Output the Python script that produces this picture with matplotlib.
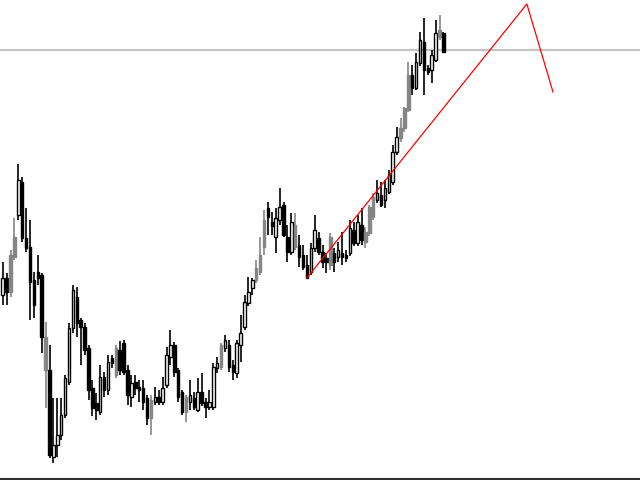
import numpy as np
import matplotlib
matplotlib.use("Agg")
import matplotlib.pyplot as plt

# price levels (screen rows, smaller = higher price)
opens = [295, 278, 292, 257, 215, 182, 238, 247, 280, 272, 275, 337, 370, 457, 445, 435, 415, 382, 328, 297,
         320, 327, 348, 388, 403, 412, 377, 390, 358, 375, 350, 343, 370, 397, 382, 387, 388, 398, 418, 402,
         397, 402, 385, 357, 345, 370, 392, 412, 402, 398, 410, 392, 402, 407, 407, 368, 367, 348, 345, 365,
         373, 345, 327, 303, 288, 280, 272, 247, 208, 222, 237, 220, 205, 237, 252, 225, 245, 255, 265, 272,
         248, 238, 252, 258, 265, 253, 257, 253, 255, 253, 230, 243, 225, 242, 233, 217, 200, 195, 200, 192,
         182, 152, 138, 128, 110, 75, 88, 63, 42, 68, 70, 60, 37, 33]
highs = [262, 273, 250, 218, 164, 177, 208, 220, 272, 255, 273, 322, 345, 398, 398, 398, 375, 323, 285, 287,
         318, 323, 345, 380, 393, 365, 372, 355, 355, 345, 341, 340, 365, 375, 375, 380, 380, 395, 395, 387,
         390, 377, 347, 330, 342, 368, 390, 395, 380, 392, 378, 373, 398, 390, 363, 357, 343, 335, 340, 360,
         340, 315, 295, 277, 278, 260, 237, 210, 202, 212, 208, 188, 202, 225, 213, 213, 235, 245, 255, 243,
         215, 232, 245, 253, 233, 248, 242, 232, 250, 220, 222, 215, 208, 227, 205, 193, 180, 182, 180, 170,
         145, 127, 118, 107, 62, 65, 53, 32, 18, 65, 50, 20, 15, 32]
lows = [305, 305, 297, 260, 220, 242, 252, 320, 318, 285, 353, 408, 458, 463, 457, 440, 418, 385, 333, 337,
        365, 355, 400, 416, 420, 415, 397, 395, 368, 378, 375, 375, 405, 407, 395, 402, 410, 425, 435, 405,
        405, 405, 388, 365, 377, 402, 415, 422, 410, 410, 412, 406, 418, 410, 410, 373, 370, 352, 372, 380,
        378, 362, 330, 306, 295, 283, 275, 255, 235, 235, 253, 225, 237, 262, 255, 250, 267, 270, 278, 275,
        252, 255, 268, 273, 270, 272, 262, 265, 262, 256, 246, 246, 245, 248, 236, 220, 203, 207, 208, 194,
        185, 155, 142, 132, 112, 95, 90, 66, 95, 75, 83, 62, 40, 53]
closes = [278, 292, 255, 237, 180, 238, 248, 282, 305, 278, 337, 370, 455, 445, 435, 415, 378, 328, 290, 323,
          327, 350, 390, 408, 410, 377, 390, 362, 363, 348, 370, 372, 395, 383, 388, 390, 402, 418, 400, 397,
          402, 388, 355, 345, 372, 397, 412, 397, 395, 407, 392, 403, 407, 402, 367, 363, 345, 340, 367, 372,
          343, 333, 302, 292, 280, 268, 255, 220, 217, 226, 218, 207, 235, 252, 222, 247, 257, 267, 278, 248,
          230, 252, 262, 262, 237, 262, 250, 257, 258, 228, 243, 222, 240, 232, 207, 197, 193, 205, 188, 175,
          152, 137, 128, 108, 75, 88, 62, 40, 70, 72, 55, 33, 30, 52]
gray_bars = [2, 3, 11, 29, 38, 47, 56, 65, 66, 67, 75, 84, 93, 94, 95, 102, 103, 104, 112]

level = 50                                  # horizontal level line
wave_x = [78, 134.4, 141.1]                 # red zigzag, bar index
wave_y = [278, 4, 92]

STEP = 3.9                                  # px per bar
fig = plt.figure(figsize=(6.4, 4.8), dpi=100)
ax = fig.add_axes([0, 0, 1, 1])
ax.set_xlim(-2.7 / STEP, (640 - 2.7) / STEP)
ax.set_ylim(480, 0)
ax.axis("off")

o, h, l, c = map(np.array, (opens, highs, lows, closes))
x = np.arange(len(o))
face = np.where(c < o, "white", "black").astype(object)
edge = np.array(["black"] * len(o), dtype=object)
for i in gray_bars:
    face[i] = "#858585"; edge[i] = "#858585"

ax.axhline(level, color="#c4c4c4", lw=1.6, zorder=1)
ax.vlines(x, h, l, colors=list(edge), lw=1.2, zorder=2)
body = np.where(np.abs(c - o) < 2, np.sign(c - o + 0.01) * 2, c - o)
ax.bar(x, body, bottom=o, width=0.66, color=list(face), edgecolor=list(edge), lw=1.0, zorder=3)
ax.plot(wave_x, wave_y, color="#ff0000", lw=0.9, zorder=4)
ax.axhline(479, color="#303030", lw=1.5, zorder=5)

fig.savefig("out.png", dpi=100, facecolor="white")
